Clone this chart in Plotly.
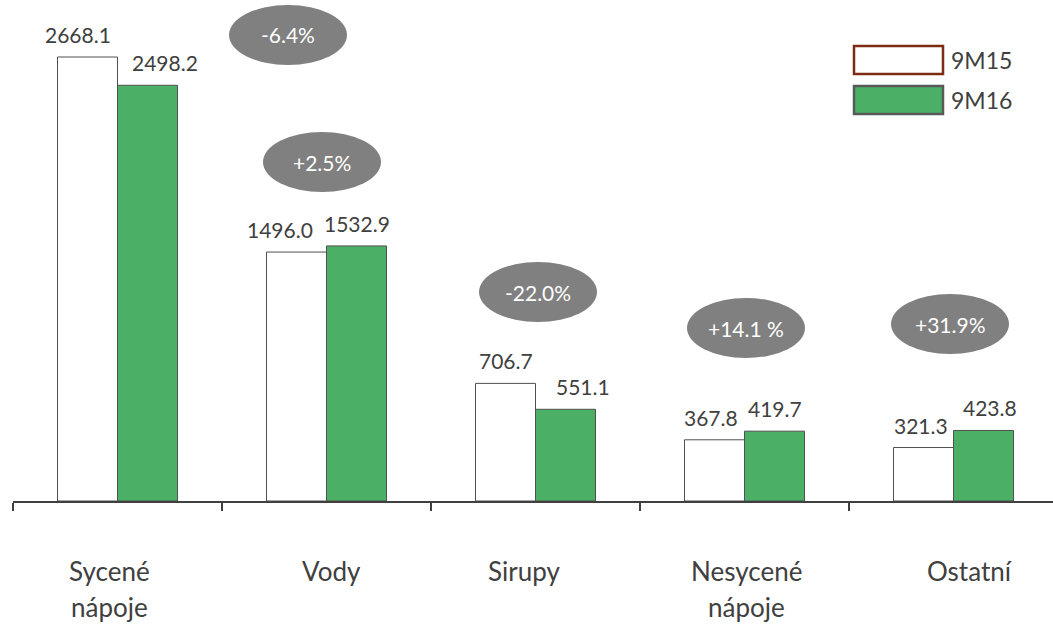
import plotly.graph_objects as go

categories = ["Sycené\nnápoje", "Vody", "Sirupy", "Nesycené\nnápoje", "Ostatní"]
series_names = ["9M15", "9M16"]
values_9m15 = [2668.1, 1496.0, 706.7, 367.8, 321.3]
values_9m16 = [2498.2, 1532.9, 551.1, 419.7, 423.8]
changes = ["-6.4%", "+2.5%", "-22.0%", "+14.1 %", "+31.9%"]

W, H = 1053, 625
ML, MR, MT, MB = 13, 0, 0, 124
PW, PH = W - ML - MR, H - MT - MB
CAT_PX = 209.0
BAR_PX = 60.0
YMAX = 3010.6
FONT = "Lato"
TXT = "#404040"
GREEN = "#4BB066"
GREY = "#808080"

# label placement tweaks (pixels), as in the original slide
shift_15 = [-10, -17, 0, -4, -3]
shift_16 = [17, 0, 17, 0, 6]
shift_cat = [-8, 5, -12, 2, 16]

x = list(range(len(categories)))
half = BAR_PX / CAT_PX / 2

fig = go.Figure()
fig.add_trace(go.Bar(
    x=x, y=values_9m15, name=series_names[0],
    marker=dict(color="white", line=dict(color="#505050", width=1)),
))
fig.add_trace(go.Bar(
    x=x, y=values_9m16, name=series_names[1],
    marker=dict(color=GREEN, line=dict(color="#505050", width=1)),
))

def px2paper_x(px):
    return (px - ML) / PW

def px2paper_y(py):
    return (MT + PH - py) / PH

shapes = []
annotations = []

# value labels
for vals, sign, shifts in ((values_9m15, -1, shift_15), (values_9m16, 1, shift_16)):
    for i, v in enumerate(vals):
        annotations.append(dict(xref="x", yref="y", x=i + sign * half, y=v,
                                text=f"{v:.1f}", showarrow=False,
                                xanchor="center", yanchor="bottom",
                                xshift=shifts[i], yshift=8,
                                font=dict(family=FONT, size=21, color=TXT)))

# change ellipses (pixel positions in the picture)
ell_pos = [(288, 35), (322, 162), (538, 292), (746, 328), (950, 324)]
EW, EH = 118, 60
for (cx, cy), lab in zip(ell_pos, changes):
    shapes.append(dict(type="circle", xref="paper", yref="paper",
                       x0=px2paper_x(cx - EW / 2), x1=px2paper_x(cx + EW / 2),
                       y0=px2paper_y(cy + EH / 2), y1=px2paper_y(cy - EH / 2),
                       fillcolor=GREY, line=dict(width=0), layer="above"))
    annotations.append(dict(xref="paper", yref="paper", x=px2paper_x(cx), y=px2paper_y(cy),
                            text=lab, showarrow=False, xanchor="center", yanchor="middle",
                            font=dict(family=FONT, size=21, color="white")))

# category labels
for i, c in enumerate(categories):
    for j, line in enumerate(c.split("\n")):
        annotations.append(dict(xref="x", yref="paper", x=i, y=px2paper_y(571 + 36 * j),
                                text=line, showarrow=False, xanchor="center", yanchor="middle",
                                xshift=shift_cat[i],
                                font=dict(family=FONT, size=26, color=TXT)))

# legend
leg = [(60, "white", "#7B2C13"), (100, GREEN, "#595959")]
for (cy, fc, lc), name in zip(leg, series_names):
    shapes.append(dict(type="rect", xref="paper", yref="paper",
                       x0=px2paper_x(854), x1=px2paper_x(943),
                       y0=px2paper_y(cy + 14), y1=px2paper_y(cy - 14),
                       fillcolor=fc, line=dict(color=lc, width=2.5)))
    annotations.append(dict(xref="paper", yref="paper", x=px2paper_x(949), y=px2paper_y(cy),
                            text=name, showarrow=False, xanchor="left", yanchor="middle",
                            font=dict(family=FONT, size=23, color=TXT)))

fig.update_layout(
    width=W, height=H,
    margin=dict(l=ML, r=MR, t=MT, b=MB),
    paper_bgcolor="white", plot_bgcolor="white",
    barmode="group", bargap=1 - 2 * BAR_PX / CAT_PX, bargroupgap=0,
    showlegend=False,
    shapes=shapes, annotations=annotations,
    xaxis=dict(range=[-0.5, -0.5 + PW / CAT_PX], showgrid=False, zeroline=False,
               showline=True, linecolor="#404040", linewidth=1.5,
               tickmode="array", tickvals=[-0.5, 0.5, 1.5, 2.5, 3.5],
               ticks="outside", ticklen=8, tickcolor="#404040", tickwidth=1.5,
               showticklabels=False),
    yaxis=dict(range=[0, YMAX], visible=False),
)

fig.write_html("out.html")
